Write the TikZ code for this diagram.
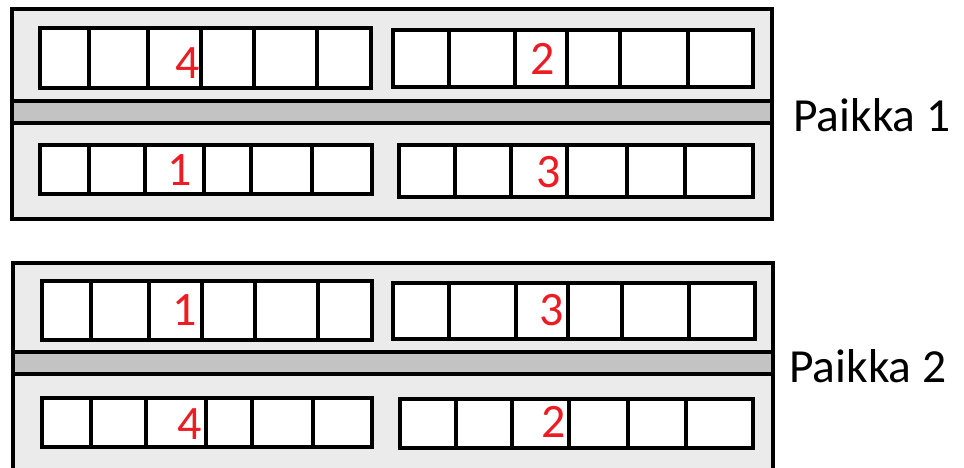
\documentclass[tikz,border=0pt]{standalone}
\usepackage{fontspec}
\setmainfont{Carlito}
\definecolor{panelgray}{HTML}{EBEBEB}
\definecolor{bargray}{HTML}{C3C3C3}
\definecolor{numred}{HTML}{ED1C24}
\tikzset{
  panel/.style={draw=black, fill=panelgray, line width=4.5pt},
  bar/.style={draw=black, fill=bargray, line width=4.5pt},
  slotbox/.style={draw=black, fill=white, line width=4.5pt},
  divider/.style={draw=black, line width=4.5pt},
  num/.style={text=numred, inner sep=0pt, font=\fontsize{48}{52}\selectfont},
  place/.style={text=black, inner sep=0pt, anchor=base west, font=\fontsize{47.5}{52}\selectfont}
}
\newcommand\myslot[5]{% x0, y0, x1, y1, divider list
  \path[slotbox] (#1,#2) rectangle (#3,#4);
  \foreach \d in {#5} {\draw[divider] (\d,#2) -- (\d,#4);}
}
\begin{document}
\begin{tikzpicture}[x=1pt,y=-1pt]
\useasboundingbox (0,0) rectangle (964,468);
\clip (0,0) rectangle (964,468);
% upper panel
\path[panel] (12,9) rectangle (772,219);
\path[bar] (12,101) rectangle (772,123);
\myslot{40}{28}{371}{88}{89,148,201,254,317}
\myslot{393}{30}{753}{87}{449,515,567,620,688}
\myslot{40}{145}{372}{194}{89,145,204,251,312}
\myslot{399}{145}{753}{197}{455,511,567,627,685}
\node[num] (u4) at (188,63) {4};
\node[num] (u2) at (543,59) {2};
\node[num] (u1) at (180,170) {1};
\node[num] (u3) at (549,172) {3};
\node[place] (p1) at (793,132) {Paikka 1};
% lower panel
\path[panel] (13,263) rectangle (773,520);
\path[bar] (13,352) rectangle (773,374);
\myslot{42}{281}{372}{340}{91,149,202,255,318}
\myslot{393}{283}{755}{339}{449,516,568,622,689}
\myslot{42}{398}{372}{447}{91,146,206,252,313}
\myslot{400}{399}{753}{448}{456,512,569,628,686}
\node[num] (l1) at (185,310) {1};
\node[num] (l3) at (552,310) {3};
\node[num] (l4) at (190,424) {4};
\node[num] (l2) at (554,422) {2};
\node[place] (p2) at (789,382) {Paikka 2};
\end{tikzpicture}
\end{document}
